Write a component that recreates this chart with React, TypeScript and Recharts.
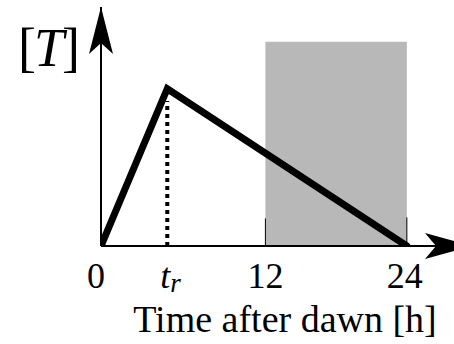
import React from "react";
import { ComposedChart, Line, XAxis, YAxis, ReferenceArea, ReferenceLine, ReferenceDot } from "recharts";

// schematic hours (positions)
const hours = [0, 5.2, 24];
const concentration = [0, 0.77, 0];
const tickValues = [0, 5.2, 12.9, 24];
const tickLabels = ["0", "t_r", "12", "24"];
const nightStart = 12.9;
const nightEnd = 24;
const nightTop = 1;
const xMax = 27.7;
const yMax = 1.17;

const data = hours.map((h, i) => ({ t: h, T: concentration[i] }));

const FONT = "'Liberation Serif', 'DejaVu Serif', serif";

const Tick = (props: any) => {
  const { x, y, payload } = props;
  const idx = tickValues.indexOf(payload.value);
  const label = tickLabels[idx];
  if (label === "t_r") {
    return (
      <text x={x - 7} y={y + 42} fontFamily={FONT} fontSize={36} fill="#000" textAnchor="start">
        <tspan fontStyle="italic">t</tspan>
        <tspan fontStyle="italic" fontSize={27} dy={4}>r</tspan>
      </text>
    );
  }
  const shift = label === "0" ? -5 : label === "24" ? -2 : 0;
  return (
    <text x={x + shift} y={y + 42} fontFamily={FONT} fontSize={36} fill="#000" textAnchor="middle">
      {label}
    </text>
  );
};

const UpArrow = (props: any) => {
  const { cx, cy } = props;
  return <path d={`M${cx},${cy} L${cx - 12},${cy + 47} L${cx},${cy + 36} L${cx + 12},${cy + 47} Z`} fill="#000" />;
};

const RightArrow = (props: any) => {
  const { cx, cy } = props;
  return <path d={`M${cx + 18},${cy} L${cx - 29},${cy - 13} L${cx - 18},${cy} L${cx - 29},${cy + 13} Z`} fill="#000" />;
};

export default function App() {
  return (
    <div style={{ position: "absolute", left: 0, top: 0, width: 454, height: 344, background: "#fff" }}>
      <ComposedChart width={454} height={344} data={data} margin={{ top: 7, right: 0, left: 101, bottom: 8 }}>
        <XAxis
          dataKey="t"
          type="number"
          domain={[0, xMax]}
          ticks={tickValues}
          tick={<Tick />}
          tickLine={false}
          tickSize={0}
          tickMargin={0}
          axisLine={{ stroke: "#000", strokeWidth: 2 }}
          height={90}
          interval={0}
          allowDataOverflow
        />
        <YAxis type="number" domain={[0, yMax]} hide allowDataOverflow />
        <ReferenceArea x1={nightStart} x2={nightEnd} y1={0} y2={nightTop} fill="#b8b8b8" fillOpacity={1} stroke="none" />
        <ReferenceLine segment={[{ x: nightStart, y: 0 }, { x: nightStart, y: 0.135 }]} stroke="#000" strokeWidth={1} />
        <ReferenceLine segment={[{ x: nightEnd, y: 0 }, { x: nightEnd, y: 0.14 }]} stroke="#000" strokeWidth={1} />
        <ReferenceLine x={0} stroke="#000" strokeWidth={2} />
        <ReferenceLine
          segment={[{ x: hours[1], y: 0 }, { x: hours[1], y: concentration[1] - 0.06 }]}
          stroke="#000"
          strokeWidth={4}
          strokeDasharray="4 4"
        />
        <Line
          dataKey="T"
          stroke="#000"
          strokeWidth={7}
          strokeLinejoin="miter"
          strokeLinecap="round"
          dot={false}
          isAnimationActive={false}
        />
        <ReferenceDot x={0} y={yMax} r={0} shape={<UpArrow />} ifOverflow="visible" />
        <ReferenceDot x={xMax} y={0} r={0} shape={<RightArrow />} ifOverflow="visible" />
        <text x={285} y={332} fontFamily={FONT} fontSize={38} fill="#000" textAnchor="middle">
          Time after dawn [h]
        </text>
        <text x={48} y={66} fontFamily={FONT} fontSize={54} fill="#000" textAnchor="middle" letterSpacing={-2}>
          [<tspan fontStyle="italic">T</tspan>]
        </text>
      </ComposedChart>
    </div>
  );
}
